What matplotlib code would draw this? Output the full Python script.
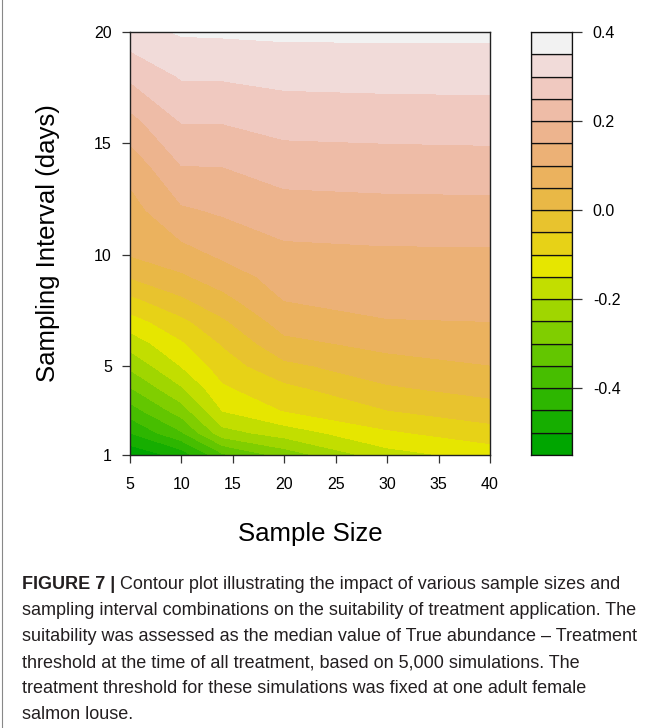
import colorsys

import numpy as np
import matplotlib

matplotlib.use("Agg")
import matplotlib.pyplot as plt

plt.rcParams["font.family"] = ["Liberation Sans", "DejaVu Sans"]
plt.rcParams["axes.unicode_minus"] = False

# grid of simulated scenarios
sample_size = [5, 10, 14, 20, 30, 40]
interval = [1, 2, 3, 4, 5, 6, 7, 8, 9, 10, 12, 14, 16, 18, 20]

# median (true abundance - treatment threshold), one column per sample size,
# ordered by sampling interval
z_n5 = [-0.54, -0.449, -0.373, -0.303, -0.239, -0.180, -0.122, -0.061, 0.003,
        0.053, 0.081, 0.118, 0.184, 0.259, 0.330]
z_n10 = [-0.48, -0.355, -0.274, -0.205, -0.148, -0.107, -0.063, -0.007, 0.042,
         0.081, 0.143, 0.200, 0.253, 0.304, 0.355]
z_n14 = [-0.36, -0.219, -0.148, -0.108, -0.076, -0.046, -0.008, 0.036, 0.075,
         0.108, 0.157, 0.201, 0.253, 0.305, 0.357]
z_n20 = [-0.28, -0.176, -0.098, -0.063, -0.012, 0.036, 0.072, 0.102, 0.120,
         0.137, 0.178, 0.224, 0.269, 0.314, 0.360]
z_n30 = [-0.17, -0.108, -0.051, -0.006, 0.030, 0.064, 0.098, 0.113, 0.128,
         0.142, 0.183, 0.228, 0.272, 0.317, 0.360]
z_n40 = [-0.13, -0.071, -0.021, 0.017, 0.049, 0.075, 0.100, 0.114, 0.128,
         0.142, 0.184, 0.230, 0.274, 0.318, 0.360]

levels = np.round(np.linspace(-0.55, 0.40, 20), 2)
key_ticks = [-0.4, -0.2, 0.0, 0.2, 0.4]
x_ticks = [5, 10, 15, 20, 25, 30, 35, 40]
y_ticks = [1, 5, 10, 15, 20]

caption_head = "FIGURE 7 |"
caption_lines = [
    " Contour plot illustrating the impact of various sample sizes and",
    "sampling interval combinations on the suitability of treatment application. The",
    "suitability was assessed as the median value of True abundance \u2013 Treatment",
    "threshold at the time of all treatment, based on 5,000 simulations. The",
    "treatment threshold for these simulations was fixed at one adult female",
    "salmon louse.",
]


def terrain_colors(n):
    """Same ramp as R's terrain.colors(n): green -> yellow -> tan -> near white."""
    k = n // 2
    cols = []
    for i in range(k):
        t = i / (k - 1)
        cols.append(colorsys.hsv_to_rgb(4 / 12 - 2 / 12 * t, 1.0, 0.65 + 0.25 * t))
    m = n - k + 1
    for j in range(1, m):
        t = j / (m - 1)
        cols.append(colorsys.hsv_to_rgb(2 / 12 * (1 - t), 1 - t, 0.90 + 0.05 * t))
    return cols


W, H = 657, 728
fig = plt.figure(figsize=(W / 100, H / 100), dpi=100)


def px_box(x0, y0, x1, y1):
    return [x0 / W, 1 - y1 / H, (x1 - x0) / W, (y1 - y0) / H]


Z = np.column_stack([z_n5, z_n10, z_n14, z_n20, z_n30, z_n40])
cols = terrain_colors(len(levels) - 1)

ax = fig.add_axes(px_box(130, 32, 490, 455))
cs = ax.contourf(sample_size, interval, Z, levels=levels, colors=cols)
ax.set_xlim(5, 40)
ax.set_ylim(1, 20)
ax.set_xticks(x_ticks)
ax.set_yticks(y_ticks)
ax.tick_params(direction="out", length=6, width=0.9, labelsize=11.5, color="#333333")
ax.tick_params(axis="x", pad=10)
ax.tick_params(axis="y", pad=7)
for s in ax.spines.values():
    s.set_linewidth(1.0)
    s.set_color("#222222")
ax.set_xlabel("Sample Size", fontsize=18.5)
ax.set_ylabel("Sampling Interval (days)", fontsize=18.5)
ax.xaxis.set_label_coords(0.5, -0.158)
ax.yaxis.set_label_coords(-0.194, 0.5)

# colour key
cax = fig.add_axes(px_box(531, 32, 572, 455))
for lo, hi, c in zip(levels[:-1], levels[1:], cols):
    cax.bar(0.5, hi - lo, bottom=lo, width=1.0, color=c, edgecolor="#111111",
            linewidth=0.9)
cax.set_xlim(0, 1)
cax.set_ylim(levels[0], levels[-1])
cax.set_xticks([])
cax.yaxis.tick_right()
cax.set_yticks(key_ticks)
cax.set_yticklabels([f"{v:.1f}" for v in key_ticks])
cax.tick_params(axis="y", direction="out", length=7, width=0.9, labelsize=11.5,
                pad=8, color="#333333")
for s in cax.spines.values():
    s.set_linewidth(0.9)
    s.set_color("#111111")

# caption
cap_color = "#231f20"
cap_font = dict(fontsize=13, color=cap_color,
                family=["Liberation Sans Narrow", "Liberation Sans", "DejaVu Sans"])
x0 = 22 / W
base = 589
head = fig.text(x0, 1 - base / H, caption_head, fontweight="bold", va="baseline",
                **cap_font)
fig.canvas.draw()
hw = head.get_window_extent().width / W
fig.text(x0 + hw, 1 - base / H, caption_lines[0], va="baseline", **cap_font)
for i, line in enumerate(caption_lines[1:], start=1):
    fig.text(x0, 1 - (base + 26 * i) / H, line, va="baseline", **cap_font)

# figure frame
fig.add_artist(plt.Line2D([2 / W, 2 / W], [0, 1], color="#888888", lw=0.8))

fig.savefig("out.png", dpi=100)
